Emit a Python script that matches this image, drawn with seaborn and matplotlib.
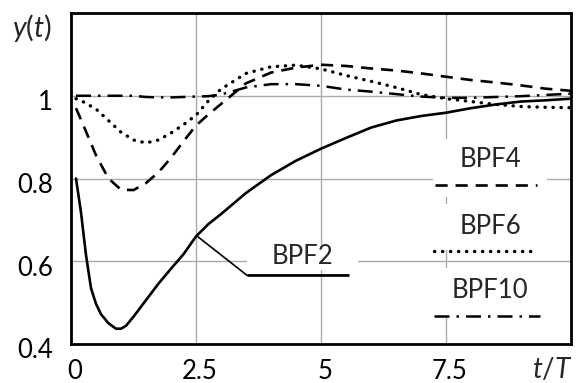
import numpy as np
import pandas as pd
import matplotlib
matplotlib.use("Agg")
import matplotlib.pyplot as plt
from matplotlib.patches import Rectangle
from matplotlib.transforms import ScaledTranslation
import seaborn as sns

# ---- data ----
t2 = [0.1, 0.2, 0.3, 0.4, 0.5, 0.6, 0.75, 0.9, 1.0, 1.1, 1.25, 1.5, 1.75, 2.0,
      2.25, 2.5, 2.75, 3.0, 3.5, 4.0, 4.5, 5.0, 5.5, 6.0, 6.5, 7.0, 7.5, 8.0,
      8.5, 9.0, 9.5, 10.0]
bpf2 = [0.800, 0.718, 0.615, 0.535, 0.497, 0.472, 0.450, 0.437, 0.437, 0.444,
        0.466, 0.506, 0.546, 0.582, 0.617, 0.660, 0.690, 0.714, 0.765, 0.808,
        0.843, 0.872, 0.898, 0.923, 0.940, 0.951, 0.959, 0.970, 0.979, 0.986,
        0.989, 0.993]
t = [0.1, 0.25, 0.5, 0.75, 1.0, 1.25, 1.5, 1.75, 2.0, 2.25, 2.5, 2.75, 3.0,
     3.5, 4.0, 4.5, 5.0, 5.5, 6.0, 6.5, 7.0, 7.5, 8.0, 8.5, 9.0, 9.5, 10.0]
bpf4 = [0.970, 0.928, 0.856, 0.800, 0.773, 0.772, 0.789, 0.815, 0.850, 0.890,
        0.928, 0.955, 0.980, 1.030, 1.056, 1.068, 1.075, 1.072, 1.066, 1.061,
        1.054, 1.046, 1.038, 1.032, 1.025, 1.017, 1.012]
bpf6 = [0.993, 0.985, 0.968, 0.940, 0.912, 0.893, 0.886, 0.893, 0.910, 0.930,
        0.953, 0.988, 1.016, 1.054, 1.070, 1.074, 1.065, 1.049, 1.035, 1.020,
        1.003, 0.993, 0.986, 0.979, 0.974, 0.972, 0.971]
bpf10 = [1.000, 1.000, 1.000, 1.000, 1.000, 1.000, 0.997, 0.996, 0.996, 0.997,
         0.998, 0.999, 1.003, 1.020, 1.028, 1.028, 1.024, 1.015, 1.010, 1.004,
         0.998, 0.995, 0.995, 0.997, 0.999, 1.002, 1.005]
series_names = ["BPF2", "BPF4", "BPF6", "BPF10"]
x_ticks = [0, 2.5, 5, 7.5]
x_tick_labels = ["0", "2.5", "5", "7.5"]
y_ticks = [0.4, 0.6, 0.8, 1.0]
y_tick_labels = ["0.4", "0.6", "0.8", "1"]

sns.set_style("white")
plt.rcParams["font.family"] = ["Lato", "DejaVu Sans"]
plt.rcParams["mathtext.fontset"] = "custom"
plt.rcParams["mathtext.it"] = "Lato:italic"
plt.rcParams["mathtext.rm"] = "Lato"

FS = 18.5
styles = {
    "BPF2": dict(lw=1.9, dashes=None, cap="round"),
    "BPF4": dict(lw=1.9, dashes=(4.6, 3.0), cap="butt"),
    "BPF6": dict(lw=2.4, dashes=(0.1, 2.3), cap="round"),
    "BPF10": dict(lw=1.8, dashes=(6.0, 2.8, 1.0, 2.8), cap="butt"),
}

fig = plt.figure(figsize=(5.79, 3.83), dpi=100)
ax = fig.add_axes([71 / 579, 1 - 344 / 383, 500 / 579, 331 / 383])

df = pd.concat([
    pd.DataFrame({"t": t2, "y": bpf2, "s": "BPF2"}),
    pd.DataFrame({"t": t, "y": bpf4, "s": "BPF4"}),
    pd.DataFrame({"t": t, "y": bpf6, "s": "BPF6"}),
    pd.DataFrame({"t": t, "y": bpf10, "s": "BPF10"}),
], ignore_index=True)

def style_line(line, name):
    st = styles[name]
    line.set_linewidth(st["lw"])
    if st["dashes"] is None:
        line.set_linestyle("-")
        line.set_solid_capstyle(st["cap"])
        line.set_solid_joinstyle("round")
    else:
        line.set_dashes(st["dashes"])
        line.set_dash_capstyle(st["cap"])
        line.set_dash_joinstyle("round")

for name in series_names:
    sub = df[df["s"] == name]
    n_before = len(ax.lines)
    sns.lineplot(data=sub, x="t", y="y", ax=ax, color="black", legend=False,
                 estimator=None, sort=False, zorder=3)
    style_line(ax.lines[n_before], name)

ax.set_xlim(0, 10)
ax.set_ylim(0.4, 1.2)
ax.set_xticks(x_ticks)
ax.set_xticklabels(x_tick_labels)
ax.set_yticks(y_ticks)
ax.set_yticklabels(y_tick_labels)
ax.set_xlabel("")
ax.set_ylabel("")
ax.tick_params(axis="both", length=0, labelsize=FS, colors="black")
ax.tick_params(axis="x", pad=11)
ax.tick_params(axis="y", pad=13)
for lab in ax.get_yticklabels():
    lab.set_transform(lab.get_transform() + ScaledTranslation(0, -4.5 / 100, fig.dpi_scale_trans))
for lab in ax.get_xticklabels():
    lab.set_transform(lab.get_transform() + ScaledTranslation(4 / 100, 0, fig.dpi_scale_trans))

ax.grid(True, color="#ababab", lw=1.0)
ax.set_axisbelow(True)
for sp in ax.spines.values():
    sp.set_color("black")
    sp.set_linewidth(2.0)
    sp.set_zorder(5)

# label boxes (white background hiding grid)
boxes = [(3.52, 0.578, 2.22, 0.062), (7.24, 0.756, 2.28, 0.139),
         (7.24, 0.627, 2.28, 0.112), (7.24, 0.466, 2.28, 0.117)]
for (bx, by, bw, bh) in boxes:
    ax.add_patch(Rectangle((bx, by), bw, bh, facecolor="white", edgecolor="none", zorder=1))

# labels and sample lines
ax.text(4.62, 0.612, "BPF2", ha="center", va="center", fontsize=FS, zorder=4)
ln, = ax.plot([2.54, 3.52, 5.55], [0.659, 0.566, 0.566], color="black", lw=1.2, zorder=4)
ln2, = ax.plot([3.52, 5.55], [0.566, 0.566], color="black", zorder=4)
style_line(ln2, "BPF2")
ln2.set_solid_capstyle("butt")

ax.text(8.38, 0.846, "BPF4", ha="center", va="center", fontsize=FS, zorder=4)
l4, = ax.plot([7.28, 9.31], [0.785, 0.785], color="black", zorder=4)
style_line(l4, "BPF4")

ax.text(8.38, 0.684, "BPF6", ha="center", va="center", fontsize=FS, zorder=4)
l6, = ax.plot([7.25, 9.25], [0.625, 0.625], color="black", zorder=4)
style_line(l6, "BPF6")

ax.text(8.38, 0.529, "BPF10", ha="center", va="center", fontsize=FS, zorder=4)
l10, = ax.plot([7.25, 9.38], [0.468, 0.468], color="black", zorder=4)
style_line(l10, "BPF10")

fig.text(32 / 579, 1 - 28 / 383, r"$y\mathrm{(}t\mathrm{)}$", ha="center", va="center", fontsize=20.5)
fig.text(552 / 579, 1 - 370 / 383, r"$t/T$", ha="center", va="center", fontsize=20)

fig.savefig("out.png", dpi=100)
